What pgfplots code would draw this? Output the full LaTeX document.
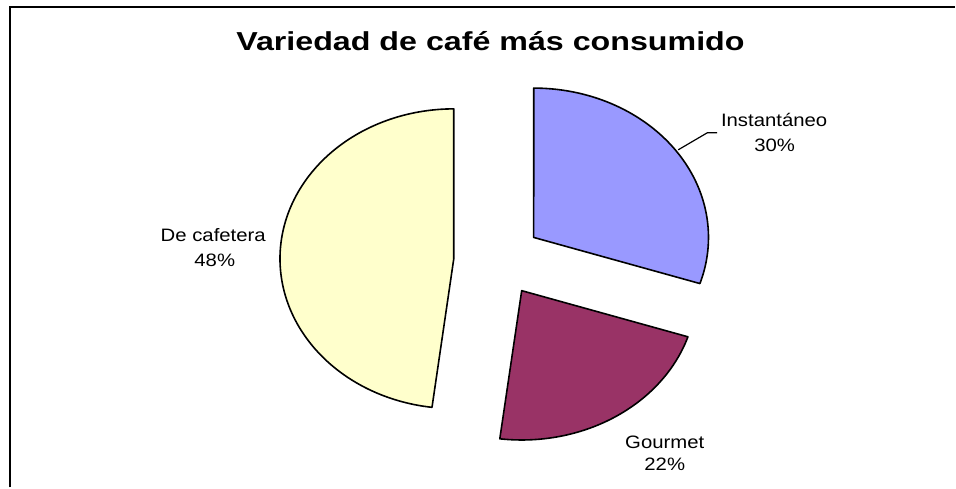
\documentclass[border=0pt]{standalone}
\usepackage{graphicx}
\usepackage{fontspec}
\setmainfont{Liberation Sans}
\usepackage{pgfplots}
\pgfplotsset{compat=1.18}
\definecolor{cInst}{HTML}{9999FF}
\definecolor{cGour}{HTML}{993366}
\definecolor{cCafe}{HTML}{FFFFCC}
% values (percent)
\def\vInst{30}
\def\vGour{22}
\def\vCafe{48}
\begin{document}
\begin{tikzpicture}
\begin{axis}[
  scale only axis, width=956pt, height=488pt,
  xmin=0, xmax=956, ymin=0, ymax=488,
  hide axis, clip=false]
\path[draw=none] (0,0) rectangle (956,488);
% border (left and top)
\draw[line width=2.2pt] (10,0) -- (10,481) -- (956,481);
% Instantaneo: 90 -> 90-3.6*30
\addplot[fill=cInst, draw=black, line width=1.6pt, line join=round, domain={90-3.6*\vInst}:90, samples=80, variable=\t]
  ({534.3+175*cos(t)}, {250.3+149.5*sin(t)}) -- (534.3,250.3) -- cycle;
% Gourmet
\addplot[fill=cGour, draw=black, line width=1.6pt, line join=round, domain={90-3.6*(\vInst+\vGour)}:{90-3.6*\vInst}, samples=60, variable=\t]
  ({522.3+175*cos(t)}, {197+149.5*sin(t)}) -- (522.3,197) -- cycle;
% De cafetera
\addplot[fill=cCafe, draw=black, line width=1.6pt, line join=round, domain={90-3.6*(\vInst+\vGour+\vCafe)}:{90-3.6*(\vInst+\vGour)}, samples=120, variable=\t]
  ({454.3+174*cos(t)}, {229+150*sin(t)}) -- (454.3,229) -- cycle;
% leader line
\addplot[black, line width=1.2pt] coordinates {(679,338) (708,355) (718,355)};
% title
\node[anchor=base, inner sep=0pt] at (491,437) {\fontsize{26}{30}\selectfont\bfseries\scalebox{1.24}[1]{Variedad de café más consumido}};
% labels
\node[anchor=base, inner sep=0pt] at (775,361.3) {\fontsize{18}{20}\selectfont\scalebox{1.13}[1]{Instantáneo}};
\node[anchor=base, inner sep=0pt] at (775.5,336.3) {\fontsize{18}{20}\selectfont\scalebox{1.13}[1]{30\%}};
\node[anchor=base, inner sep=0pt] at (213.5,246.3) {\fontsize{18}{20}\selectfont\scalebox{1.13}[1]{De cafetera}};
\node[anchor=base, inner sep=0pt] at (215,220.7) {\fontsize{18}{20}\selectfont\scalebox{1.13}[1]{48\%}};
\node[anchor=base, inner sep=0pt] at (665.5,39) {\fontsize{18}{20}\selectfont\scalebox{1.13}[1]{Gourmet}};
\node[anchor=base, inner sep=0pt] at (665.5,16.5) {\fontsize{18}{20}\selectfont\scalebox{1.13}[1]{22\%}};
\end{axis}
\end{tikzpicture}
\end{document}
